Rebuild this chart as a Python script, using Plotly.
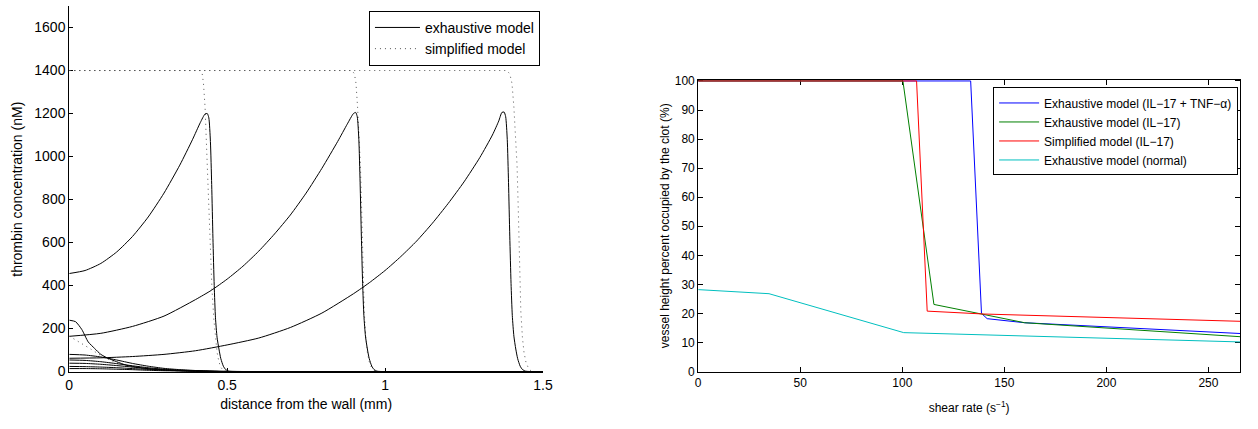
import plotly.graph_objects as go

FONT = "Liberation Sans, Arial, Helvetica, sans-serif"

# ---------------- Left panel: thrombin concentration profiles ----------------
# exhaustive model fronts
exA_x = [0, 0.05, 0.1, 0.15, 0.2, 0.25, 0.3, 0.35, 0.39, 0.415, 0.43, 0.437, 0.442, 0.447, 0.451,
         0.455, 0.459, 0.463, 0.468, 0.474, 0.48, 0.488, 0.495, 0.505, 0.55, 1.5]
exA_y = [456, 470, 503, 556, 628, 719, 830, 960, 1078, 1158, 1198, 1200, 1180, 1070, 870,
         620, 400, 250, 160, 105, 60, 25, 10, 2, 0, 0]

exB_x = [0, 0.1, 0.2, 0.3, 0.4, 0.45, 0.5, 0.55, 0.6, 0.65, 0.7, 0.75, 0.8, 0.85, 0.88, 0.9,
         0.907, 0.912, 0.917, 0.921, 0.925, 0.929, 0.933, 0.938, 0.944, 0.95, 0.958, 0.965,
         0.975, 1.0, 1.5]
exB_y = [164, 178, 210, 258, 335, 378, 430, 490, 560, 640, 728, 830, 945, 1070, 1150, 1200,
         1205, 1185, 1080, 880, 630, 410, 260, 165, 105, 60, 25, 10, 2, 0, 0]

exC_x = [0, 0.1, 0.2, 0.3, 0.4, 0.5, 0.6, 0.7, 0.8, 0.9, 0.95, 1.0, 1.05, 1.1, 1.15, 1.2, 1.25,
         1.3, 1.34, 1.36, 1.37, 1.377, 1.382, 1.387, 1.391, 1.395, 1.399, 1.403, 1.408, 1.414,
         1.42, 1.428, 1.435, 1.445, 1.47, 1.5]
exC_y = [62, 64, 70, 80, 97, 124, 156, 205, 272, 362, 413, 470, 535, 607, 690, 782, 882,
         995, 1100, 1165, 1205, 1207, 1185, 1080, 880, 630, 410, 260, 165, 105, 60, 25, 10,
         2, 0, 0]

# early-time profiles near the wall
early_x = [0, 0.05, 0.1, 0.15, 0.2, 0.25, 0.3, 0.35, 0.4, 0.45, 0.5, 0.6, 1.5]
early_1 = [80, 77, 68, 54, 38, 25, 15, 9, 5, 2, 1, 0, 0]
early_2 = [54, 52, 46, 37, 27, 18, 11, 7, 4, 2, 1, 0, 0]
early_3 = [39, 38, 34, 28, 21, 14, 9, 5, 3, 1, 0, 0, 0]
early_4 = [24, 23, 21, 18, 14, 10, 6, 4, 2, 1, 0, 0, 0]
early_5 = [14, 14, 13, 11, 9, 6, 4, 3, 1, 1, 0, 0, 0]

peak_x = [0, 0.02, 0.04, 0.06, 0.08, 0.1, 0.12, 0.15, 0.18, 0.22, 0.26, 0.3, 0.35, 0.4, 0.5, 1.5]
peak_y = [239, 232, 195, 138, 108, 80, 64, 46, 30, 19, 12, 7, 4, 2, 0, 0]

# simplified model fronts
smA_x = [0, 0.415, 0.421, 0.425, 0.43, 0.435, 0.44, 0.446, 0.452, 0.458, 0.463, 0.468, 0.474,
         0.48, 0.488, 0.5, 1.5]
smA_y = [1400, 1400, 1385, 1340, 1230, 1030, 800, 560, 380, 240, 150, 90, 45, 20, 5, 0, 0]

smB_x = [0, 0.895, 0.903, 0.908, 0.913, 0.918, 0.922, 0.926, 0.93, 0.934, 0.939, 0.944, 0.95,
         0.957, 0.965, 0.975, 1.5]
smB_y = [1400, 1400, 1385, 1340, 1230, 1100, 960, 750, 470, 280, 160, 90, 45, 20, 6, 0, 0]

smC_x = [0, 1.385, 1.395, 1.402, 1.408, 1.413, 1.418, 1.422, 1.426, 1.43, 1.435, 1.44, 1.446,
         1.453, 1.46, 1.47, 1.5]
smC_y = [1400, 1400, 1385, 1340, 1230, 1100, 960, 750, 470, 280, 160, 90, 45, 20, 6, 0, 0]

smE_x = [0, 0.033, 0.07, 0.106, 0.15, 0.2, 0.3, 0.5, 1.5]
smE_y = [165, 137, 103, 69, 40, 20, 5, 0, 0]

left_xticks = [0, 0.5, 1, 1.5]
left_xticklabels = ["0", "0.5", "1", "1.5"]
left_yticks = [0, 200, 400, 600, 800, 1000, 1200, 1400, 1600]

# ---------------- Right panel: clot height vs shear rate ----------------
blue_x = [0, 133.5, 138.8, 141.6, 160, 265.5]
blue_y = [100, 100, 20.0, 18.2, 16.8, 13.1]
green_x = [0, 100.3, 115.5, 140, 160, 265.5]
green_y = [100, 100, 23.1, 19.5, 16.8, 12.0]
red_x = [0, 107, 112.2, 140, 265.5]
red_y = [100, 100, 20.8, 19.8, 17.3]
cyan_x = [0, 34.7, 100.7, 265.5]
cyan_y = [28.2, 26.8, 13.4, 10.2]

right_names = ["Exhaustive model (IL\u221217 + TNF\u2212\u03b1)", "Exhaustive model (IL\u221217)",
               "Simplified model (IL\u221217)", "Exhaustive model (normal)"]
right_colors = ["#0000ff", "#007f00", "#ff0000", "#00bfbf"]
right_xticks = [0, 50, 100, 150, 200, 250]
right_yticks = [0, 10, 20, 30, 40, 50, 60, 70, 80, 90, 100]

fig = go.Figure()

DOT = "1px,4px"
sim_sets = [(smA_x, smA_y), (smB_x, smB_y), (smC_x, smC_y), (smE_x, smE_y)]
for xs, ys in sim_sets:
    fig.add_trace(go.Scatter(x=xs, y=ys, mode="lines", xaxis="x", yaxis="y",
                             line=dict(color="#555555", width=1, dash=DOT),
                             name="simplified model", legend="legend",
                             legendgroup="sim", showlegend=False, hoverinfo="skip"))

ex_sets = [(exA_x, exA_y), (exB_x, exB_y), (exC_x, exC_y), (peak_x, peak_y),
           (early_x, early_1), (early_x, early_2), (early_x, early_3),
           (early_x, early_4), (early_x, early_5)]
for i, (xs, ys) in enumerate(ex_sets):
    fig.add_trace(go.Scatter(x=xs, y=ys, mode="lines", xaxis="x", yaxis="y",
                             line=dict(color="black", width=1, shape="spline", smoothing=0.6),
                             name="exhaustive model", legend="legend",
                             legendgroup="ex", showlegend=(i == 0), hoverinfo="skip"))
fig.add_trace(go.Scatter(x=[None], y=[None], mode="lines", xaxis="x", yaxis="y",
                         line=dict(color="#555555", width=1, dash=DOT),
                         name="simplified model", legend="legend", legendgroup="sim",
                         showlegend=True))

for xs, ys, nm, col in zip([blue_x, green_x, red_x, cyan_x], [blue_y, green_y, red_y, cyan_y],
                           right_names, right_colors):
    fig.add_trace(go.Scatter(x=xs, y=ys, mode="lines", xaxis="x2", yaxis="y2",
                             line=dict(color=col, width=1), name=nm, legend="legend2",
                             hoverinfo="skip"))

W, H = 1258, 429

fig.update_layout(
    width=W, height=H, margin=dict(l=0, r=0, t=0, b=0),
    paper_bgcolor="white", plot_bgcolor="white",
    font=dict(family=FONT, color="black"),
    showlegend=True,
    xaxis=dict(domain=[66 / W, 545 / W], range=[0, 1.5], tickvals=left_xticks,
               ticktext=left_xticklabels, ticks="inside", ticklen=4, tickcolor="black",
               showline=True, linecolor="black", linewidth=1, showgrid=False, zeroline=False,
               tickfont=dict(size=14), anchor="y", layer="below traces",
               title=dict(text="distance from the wall (mm)", font=dict(size=14), standoff=6)),
    yaxis=dict(domain=[1 - 377.9 / H, 1.0], range=[-4, 1700], tickvals=left_yticks,
               ticks="inside", ticklen=4, tickcolor="black", showline=True, linecolor="black",
               linewidth=1, showgrid=False, zeroline=False, tickfont=dict(size=14), anchor="x",
               layer="below traces",
               title=dict(text="thrombin concentration (nM)", font=dict(size=14), standoff=8)),
    xaxis2=dict(domain=[702 / W, 1250 / W], range=[0, 265.5], tickvals=right_xticks,
                ticks="inside", ticklen=5, tickcolor="black", showline=True, mirror="allticks",
                linecolor="black", linewidth=1, showgrid=False, zeroline=False,
                tickfont=dict(size=12), anchor="y2", layer="below traces",
                title=dict(text="shear rate (s<sup>\u22121</sup>)", font=dict(size=12), standoff=14)),
    yaxis2=dict(domain=[1 - 377 / H, 1 - 76.25 / H], range=[0, 100.35], tickvals=right_yticks,
                ticks="inside", ticklen=5, tickcolor="black", showline=True, mirror="allticks",
                linecolor="black", linewidth=1, showgrid=False, zeroline=False,
                tickfont=dict(size=12), anchor="x2", layer="below traces",
                title=dict(text="vessel height percent occupied by the clot (%)",
                           font=dict(size=12), standoff=2)),
    legend=dict(x=542 / W, xanchor="right", y=1 - 5 / H, yanchor="top",
                bgcolor="white", bordercolor="black", borderwidth=1, itemwidth=45,
                font=dict(size=14), tracegroupgap=0, traceorder="normal"),
    legend2=dict(x=1248 / W, xanchor="right", y=1 - 84 / H, yanchor="top",
                 bgcolor="white", bordercolor="black", borderwidth=1, itemwidth=40,
                 font=dict(size=12), tracegroupgap=0),
)

fig.write_html("out.html", config={"displayModeBar": False},
               post_script="document.body.style.margin='0';")
